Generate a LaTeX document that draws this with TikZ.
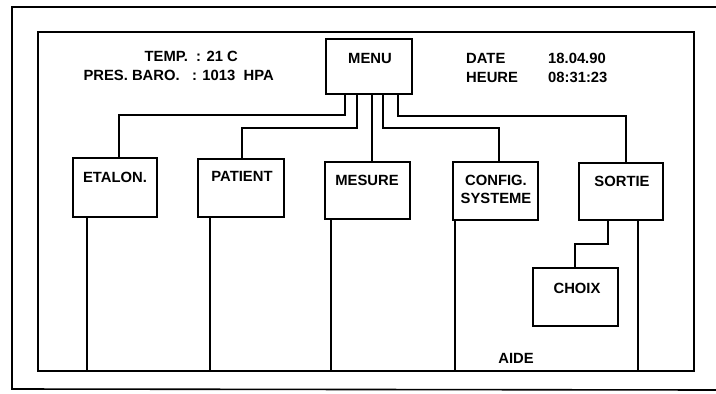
\documentclass[tikz,border=0pt]{standalone}
\usepackage{fontspec}
\setmainfont{Liberation Sans}
\begin{document}
\begin{tikzpicture}[x=1pt,y=-1pt,
  box/.style={draw,line width=1.7pt},
  lbl/.style={font=\fontsize{14.8}{16}\selectfont\bfseries,inner sep=0pt,align=center},
  frame/.style={line width=1.6pt},
  link/.style={line width=1.2pt}]
\useasboundingbox (0,0) rectangle (716,394);
% outer frame (open on the right)
\draw[frame] (716,7) -- (12,7) -- (12,389) -- (716,390);
% inner frame
\draw[frame] (38,32) rectangle (694,371);
% boxes
\draw[box] (326,39) rectangle (412,94);
\draw[box] (73,158) rectangle (157,217);
\draw[box] (198,159) rectangle (284,217);
\draw[box] (325,162) rectangle (410,219);
\draw[box] (453,162) rectangle (538,220);
\draw[box] (579,163) rectangle (663,220);
\draw[box] (533,268) rectangle (618,326);
% labels
\node[lbl] (tmenu) at (370,58) {MENU};
\node[lbl] (tetal) at (115,177) {ETALON.};
\node[lbl] (tpat) at (242,176) {PATIENT};
\node[lbl] (tmes) at (367,180) {MESURE};
\node[lbl] (tconf) at (496,189) {CONFIG.\\[2pt]SYSTEME};
\node[lbl] (tsort) at (622,181) {SORTIE};
\node[lbl] (tchoix) at (577,288) {CHOIX};
\node[lbl] (taide) at (516,358) {AIDE};
\node[lbl,anchor=east] (ttemp) at (238,56) {TEMP. \ : 21 C};
\node[lbl,anchor=east] (tpres) at (274,75) {PRES. BARO. \ \ : 1013 \ HPA};
\node[lbl,anchor=west] (tdate) at (466,58) {DATE};
\node[lbl,anchor=west] (theure) at (466,77) {HEURE};
\node[lbl,anchor=west] (tdv) at (548,58) {18.04.90};
\node[lbl,anchor=west] (thv) at (548,77) {08:31:23};
% connectors from MENU
\draw[link] (345,94) -- (345,115) -- (119,115) -- (119,158);
\draw[link] (357,94) -- (357,128) -- (242,128) -- (242,159);
\draw[link] (372,94) -- (372,162);
\draw[link] (383,94) -- (383,128) -- (499,128) -- (499,162);
\draw[link] (398,94) -- (398,116) -- (626,116) -- (626,163);
% SORTIE to CHOIX
\draw[link] (608,220) -- (608,244) -- (575,244) -- (575,268);
% lines down to the inner frame bottom
\draw[link] (87,217) -- (87,371);
\draw[link] (210,217) -- (210,371);
\draw[link] (331,219) -- (331,371);
\draw[link] (455,220) -- (455,371);
\draw[link] (638,220) -- (638,371);
\end{tikzpicture}
\end{document}
